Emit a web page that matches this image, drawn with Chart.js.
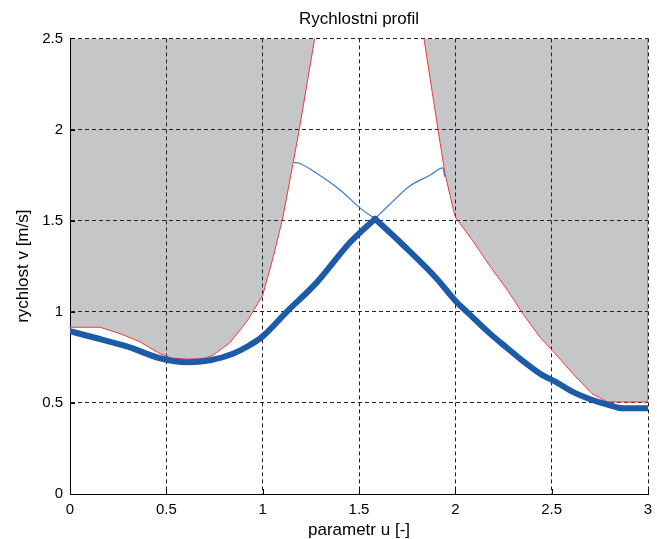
<!DOCTYPE html>
<html>
<head>
<meta charset="utf-8">
<script src="https://cdn.jsdelivr.net/npm/chart.js@4"></script>
<style>
  body { margin: 0; background: #fff; }
  #wrap { width: 657px; height: 539px; }
</style>
</head>
<body>
<div id="wrap"><canvas id="myChart"></canvas></div>
<script>
// hranice (limit) - leva cast
const limitLeftU = [0, 0.156, 0.26, 0.363, 0.467, 0.53, 0.62, 0.70, 0.74, 0.83, 0.92, 1.0, 1.055, 1.105, 1.157, 1.19, 1.27];
const limitLeftV = [0.915, 0.915, 0.88, 0.835, 0.77, 0.745, 0.74, 0.745, 0.76, 0.83, 0.95, 1.09, 1.30, 1.52, 1.81, 2.0, 2.5];
// hranice - prava cast
const limitRightU = [1.837, 1.91, 1.946, 1.99, 2.0, 2.09, 2.18, 2.27, 2.35, 2.44, 2.51, 2.61, 2.71, 2.79, 3.0, 3.0];
const limitRightV = [2.5, 2.0, 1.76, 1.56, 1.52, 1.39, 1.25, 1.12, 0.99, 0.86, 0.78, 0.66, 0.55, 0.505, 0.505, 2.5];
// rychlostni profil
const profileU = [0, 0.12, 0.295, 0.467, 0.607, 0.727, 0.846, 0.93, 1.0, 1.125, 1.28, 1.453, 1.583, 1.73, 1.905, 2.0, 2.07, 2.18, 2.27, 2.35, 2.44, 2.53, 2.61, 2.70, 2.79, 2.87, 3.0];
const profileV = [0.893, 0.86, 0.81, 0.745, 0.723, 0.734, 0.77, 0.815, 0.865, 1.0, 1.16, 1.38, 1.51, 1.365, 1.18, 1.06, 0.99, 0.88, 0.80, 0.73, 0.66, 0.61, 0.56, 0.52, 0.49, 0.47, 0.47];
// pomocna krivka (zrychleni / brzdeni)
const auxU = [1.162, 1.19, 1.28, 1.40, 1.505, 1.583, 1.66, 1.764, 1.87, 1.935, 1.945];
const auxV = [1.82, 1.815, 1.76, 1.67, 1.57, 1.51, 1.59, 1.69, 1.75, 1.79, 1.74];

const xTicks = [0, 0.5, 1, 1.5, 2, 2.5, 3];
const xTickLabels = ['0', '0.5', '1', '1.5', '2', '2.5', '3'];
const yTicks = [0, 0.5, 1, 1.5, 2, 2.5];
const yTickLabels = ['0', '0.5', '1', '1.5', '2', '2.5'];

const toPts = (us, vs) => us.map((u, i) => ({ x: u, y: vs[i] }));
// rozdeleni krivky ve spicce (ostry vrchol / dolni bod)
const splitAt = (pts, idx) => [pts.slice(0, idx + 1), pts.slice(idx)];
const profilePts = toPts(profileU, profileV);
const [profileUp, profileDown] = splitAt(profilePts, profileV.indexOf(Math.max(...profileV)));
const auxPts = toPts(auxU, auxV);
const [auxDown, auxUp] = splitAt(auxPts, auxV.indexOf(Math.min(...auxV)));

const FONT = "'Liberation Sans', Arial, sans-serif";
const BLUE = '#1d5aa8';
const BLUE_THIN = '#3d7ac8';
const RED = '#f03a3a';
const GRAY = 'rgb(197,198,200)';

// MATLAB style - ticks dovnitr
const innerTicks = {
    id: 'innerTicks',
    afterDatasetsDraw(chart) {
        const { ctx, chartArea, scales } = chart;
        ctx.save();
        ctx.strokeStyle = '#000';
        ctx.lineWidth = 1;
        ctx.beginPath();
        xTicks.forEach(t => {
            const px = Math.round(scales.x.getPixelForValue(t)) + 0.5;
            ctx.moveTo(px, chartArea.bottom);
            ctx.lineTo(px, chartArea.bottom - 5);
        });
        yTicks.forEach(t => {
            const py = Math.round(scales.y.getPixelForValue(t)) + 0.5;
            ctx.moveTo(chartArea.left, py);
            ctx.lineTo(chartArea.left + 5, py);
        });
        ctx.stroke();
        ctx.restore();
    }
};

const thick = pts => ({
    data: pts,
    borderColor: BLUE,
    borderWidth: 6,
    borderJoinStyle: 'round',
    borderCapStyle: 'round',
    fill: false,
    cubicInterpolationMode: 'monotone'
});
const thin = pts => ({
    data: pts,
    borderColor: BLUE_THIN,
    borderWidth: 1.2,
    fill: false,
    cubicInterpolationMode: 'monotone'
});
const limit = pts => ({
    data: pts,
    borderColor: RED,
    borderWidth: 1,
    backgroundColor: GRAY,
    fill: 'end',
    tension: 0
});

const ctx = document.getElementById('myChart').getContext('2d');
const myChart = new Chart(ctx, {
    type: 'line',
    data: {
        datasets: [
            thick(profileUp),
            thick(profileDown),
            thin(auxDown),
            thin(auxUp),
            limit(toPts(limitLeftU, limitLeftV)),
            limit(toPts(limitRightU, limitRightV))
        ]
    },
    options: {
        responsive: true,
        maintainAspectRatio: false,
        animation: false,
        layout: { padding: { left: 0, right: 9, top: 0, bottom: 0 } },
        elements: { point: { radius: 0 } },
        plugins: {
            legend: { display: false },
            tooltip: { enabled: false },
            filler: { drawTime: 'beforeDraw' },
            title: {
                display: true,
                fullSize: false,
                text: 'Rychlostni profil',
                color: '#000',
                font: { family: FONT, size: 17, weight: 'normal' },
                padding: { top: 9, bottom: 9 }
            }
        },
        scales: {
            x: {
                type: 'linear',
                min: 0,
                max: 3,
                afterFit: s => { s.height = 45; s.paddingRight = 0; s.paddingLeft = 0; },
                afterBuildTicks: s => { s.ticks = xTicks.map(v => ({ value: v })); },
                ticks: {
                    color: '#000',
                    padding: 7,
                    maxRotation: 0,
                    font: { family: FONT, size: 15 },
                    callback: v => xTickLabels[xTicks.indexOf(v)]
                },
                grid: { color: '#222', lineWidth: 1, drawTicks: false },
                border: { display: true, color: '#000', width: 1, dash: [4, 3] },
                title: {
                    display: true,
                    text: 'parametr u [-]',
                    color: '#000',
                    font: { family: FONT, size: 17 },
                    padding: { top: 0, bottom: -2 }
                }
            },
            y: {
                type: 'linear',
                min: 0,
                max: 2.5,
                afterFit: s => { s.width = 70; },
                afterBuildTicks: s => { s.ticks = yTicks.map(v => ({ value: v })); },
                ticks: {
                    color: '#000',
                    padding: 7,
                    font: { family: FONT, size: 15 },
                    callback: v => yTickLabels[yTicks.indexOf(v)]
                },
                grid: { color: '#222', lineWidth: 1, drawTicks: false },
                border: { display: true, color: '#000', width: 1, dash: [4, 3] },
                title: {
                    display: true,
                    text: 'rychlost v [m/s]',
                    color: '#000',
                    font: { family: FONT, size: 17 },
                    padding: { top: 13, bottom: 0 }
                }
            }
        }
    },
    plugins: [innerTicks]
});
</script>
</body>
</html>
